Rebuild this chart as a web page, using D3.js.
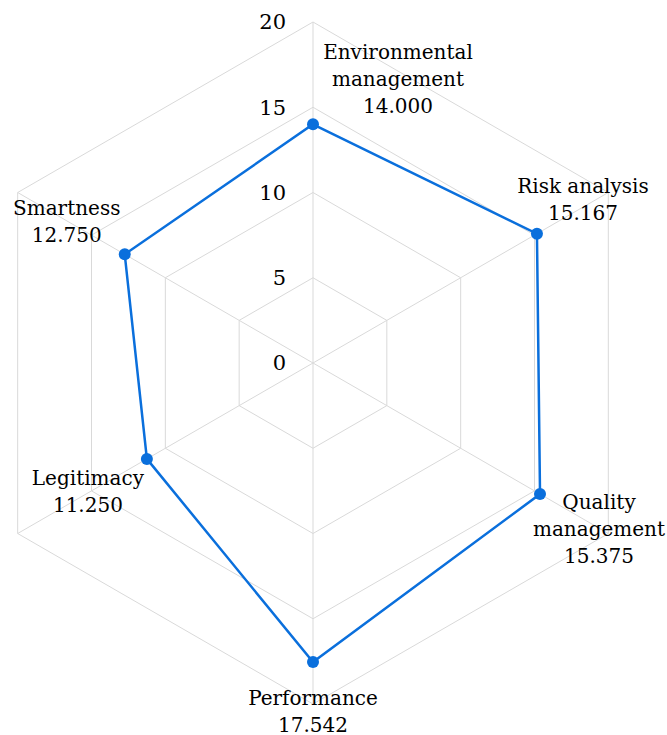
<!DOCTYPE html>
<html>
<head>
<meta charset="utf-8">
<script src="https://cdn.jsdelivr.net/npm/d3@7"></script>
<style>
  body { margin: 0; background: #fff; }
  text { font-family: "DejaVu Serif", serif; fill: #000; }
</style>
</head>
<body>
<script>
var categories = [["Environmental", "management"], ["Risk analysis"], ["Quality", "management"],
                  ["Performance"], ["Legitimacy"], ["Smartness"]];
var values = [14.000, 15.167, 15.375, 17.542, 11.250, 12.750];
var ticks = [0, 5, 10, 15, 20];
// label offsets from each point (dx, dy of first line centre)
var labelOffsets = [[85, -72], [46, -48], [59, 8], [0, 36], [-59, 19], [-58, -46]];

main();

function main() {
  setupCanvas();
  setupScales();
  drawGrid();
  drawTickLabels();
  drawSeries();
  drawLabels();
}

function setupCanvas() {
  width = 667;
  height = 735;
  cx = 313;
  cy = 363;
  radius = 341;
  svg = d3.select("body").append("svg")
    .attr("width", width)
    .attr("height", height);
  g = svg.append("g").attr("transform", `translate(${cx}, ${cy})`);
}

function setupScales() {
  r = d3.scaleLinear().domain([0, 20]).range([0, radius]);
  angle = d3.scaleLinear().domain([0, categories.length]).range([0, 2 * Math.PI]);
}

function pos(i, v) {
  var a = angle(i);
  return [r(v) * Math.sin(a), -r(v) * Math.cos(a)];
}

function drawGrid() {
  var ring = d3.line().curve(d3.curveLinearClosed);
  ticks.slice(1).forEach(function (t) {
    g.append("path")
      .attr("d", ring(categories.map(function (c, i) { return pos(i, t); })))
      .attr("fill", "none")
      .attr("stroke", "#d9d9d9")
      .attr("stroke-width", 1);
  });
  categories.forEach(function (c, i) {
    var p = pos(i, 20);
    g.append("line")
      .attr("x1", 0).attr("y1", 0)
      .attr("x2", p[0]).attr("y2", p[1])
      .attr("stroke", "#d9d9d9")
      .attr("stroke-width", 1);
  });
}

function drawTickLabels() {
  g.selectAll(".tick")
    .data(ticks)
    .enter()
    .append("text")
    .attr("x", -27)
    .attr("y", function (d) { return -r(d); })
    .attr("dy", "0.35em")
    .attr("text-anchor", "end")
    .style("font-size", "21px")
    .text(function (d) { return d; });
}

function drawSeries() {
  var line = d3.line().curve(d3.curveLinearClosed);
  var pts = values.map(function (v, i) { return pos(i, v); });
  g.append("path")
    .attr("d", line(pts))
    .attr("fill", "none")
    .attr("stroke", "#0a6fdc")
    .attr("stroke-width", 2.5);
  g.selectAll("circle")
    .data(pts)
    .enter()
    .append("circle")
    .attr("cx", function (d) { return d[0]; })
    .attr("cy", function (d) { return d[1]; })
    .attr("r", 6)
    .attr("fill", "#0a6fdc");
}

function drawLabels() {
  values.forEach(function (v, i) {
    var p = pos(i, v);
    var lines = categories[i].concat([v.toFixed(3)]);
    var t = g.append("text")
      .attr("text-anchor", "middle")
      .style("font-size", "20px");
    lines.forEach(function (s, k) {
      t.append("tspan")
        .attr("x", p[0] + labelOffsets[i][0])
        .attr("y", p[1] + labelOffsets[i][1] + k * 27)
        .attr("dy", "0.35em")
        .text(s);
    });
  });
}
</script>
</body>
</html>
